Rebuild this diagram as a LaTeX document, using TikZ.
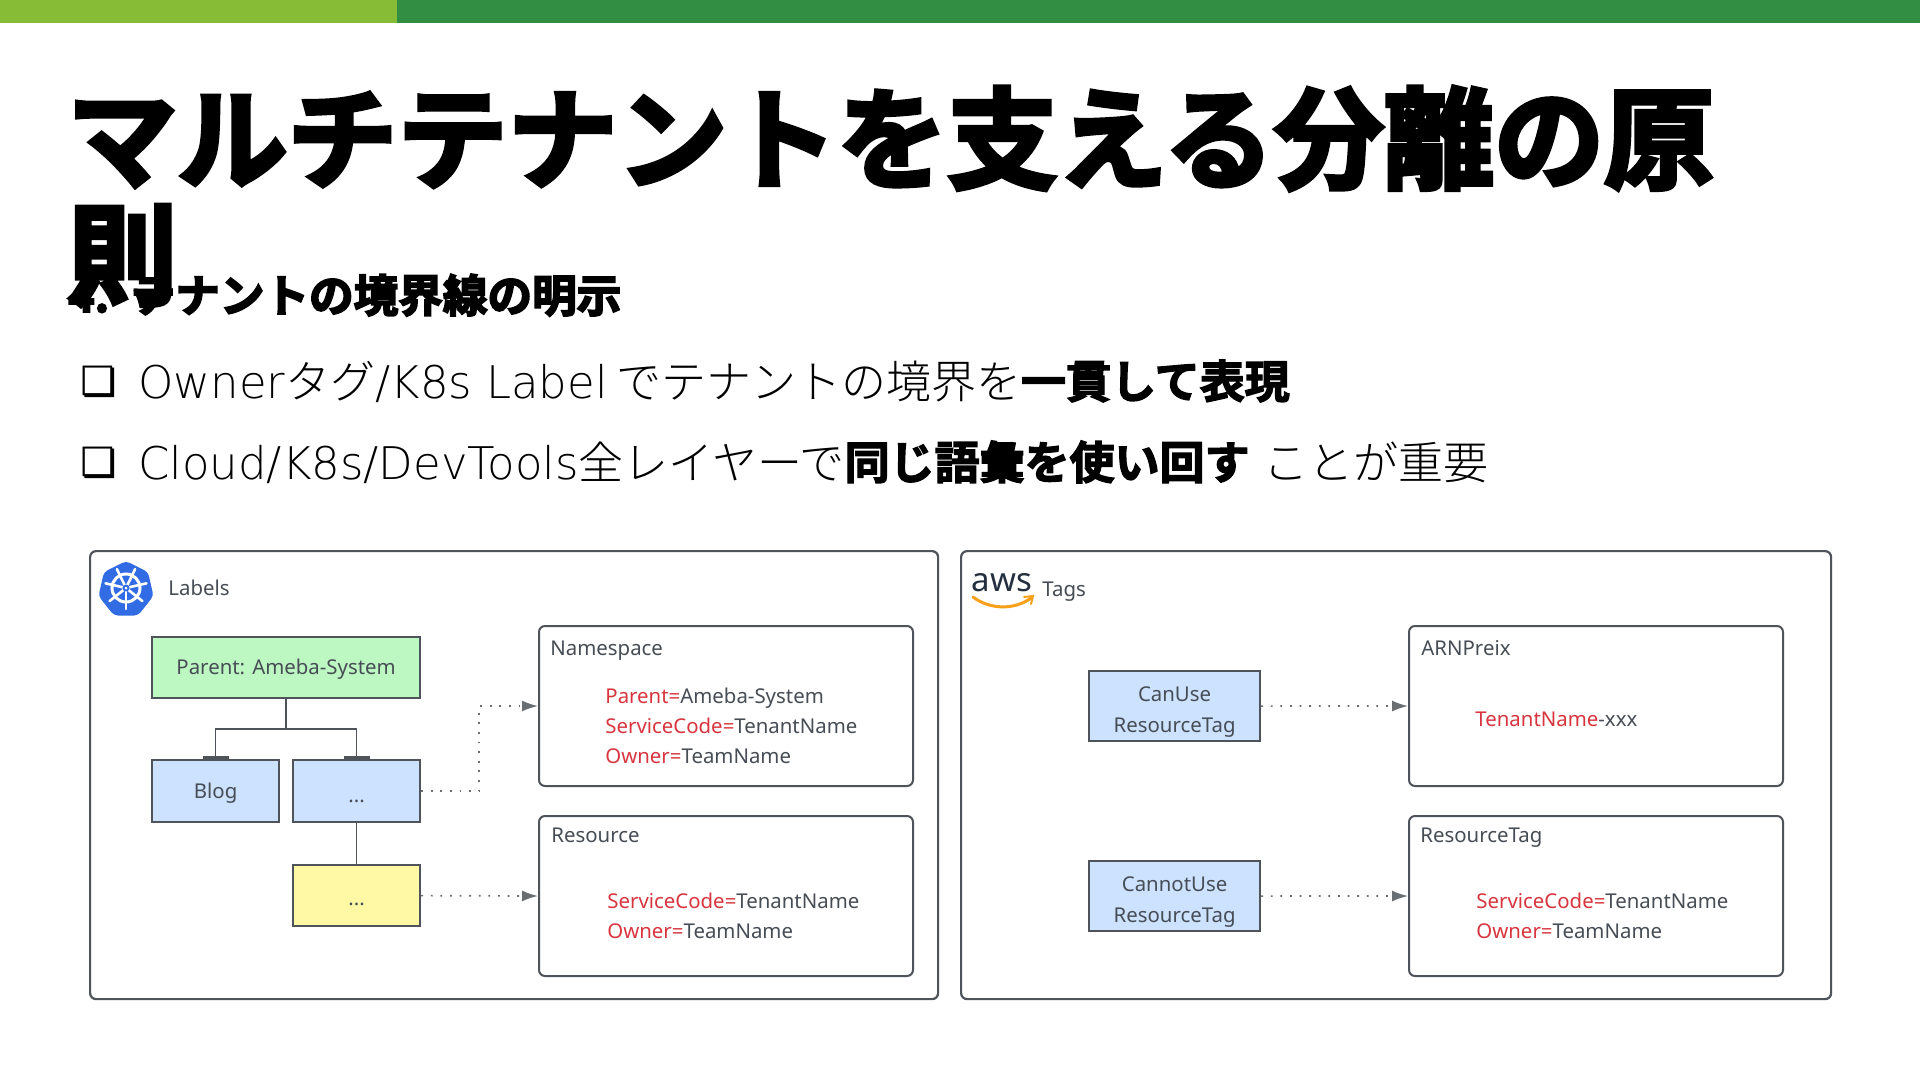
\documentclass[tikz,border=0pt]{standalone}
\usepackage{fontspec}
\usetikzlibrary{arrows.meta}
\setmainfont{Noto Sans}
\newfontfamily\jpheavy[FakeBold=4]{Noto Sans CJK JP Bold}
\newfontfamily\jpbody[FakeBold=3]{Noto Sans CJK JP Bold}
\newfontfamily\jplight{Noto Sans CJK JP Light}
\newfontfamily\lat{DejaVu Sans ExtraLight}
\newfontfamily\symf[FakeBold=0.8]{DejaVu Sans}
\definecolor{barlight}{HTML}{86BC36}
\definecolor{bardark}{HTML}{328E43}
\definecolor{edge}{HTML}{4F545A}
\definecolor{ink}{HTML}{474D55}
\definecolor{redtx}{HTML}{D8353F}
\definecolor{greenfill}{HTML}{BDF8C2}
\definecolor{bluefill}{HTML}{CCE2FF}
\definecolor{yellowfill}{HTML}{FFF8A4}
\definecolor{k8sblue}{HTML}{326CE5}
\definecolor{awsink}{HTML}{232F3E}
\definecolor{awsorange}{HTML}{F7A11A}
\tikzset{
 x=0.5pt,y=-0.5pt,
 panel/.style={draw=edge,line width=1.1pt,rounded corners=3pt,anchor=north west,inner sep=0pt},
 box/.style={draw=edge,line width=1pt,rounded corners=3pt,anchor=north west,inner sep=0pt},
 flat/.style={draw=edge,line width=1.1pt,anchor=north west,inner sep=0pt,align=center,text=ink,font=\fontsize{10.2}{15.3}\selectfont},
 lbl/.style={anchor=base west,inner sep=0pt,text=ink,font=\fontsize{10.2}{13}\selectfont},
 tree/.style={draw=edge,line width=0.8pt},
 tick/.style={draw=edge,line width=0.8pt,-{Bar[width=13pt,line width=1.3pt]}},
 dots/.style={draw=edge!85,line width=0.85pt,dash pattern=on 0.9pt off 3.9pt,-{Latex[length=8pt,width=5.5pt]}},
 bodyline/.style={anchor=base west,inner sep=0pt,font=\fontsize{22.5}{26}\selectfont},
}
\newcommand{\rd}[1]{\textcolor{redtx}{#1}}
\newcommand{\hv}[1]{{\jpbody #1}}
\newcommand{\jl}[1]{{\jplight #1}}
\newcommand{\lowered}[2]{\raisebox{-#1}[7pt][2pt]{#2}}
\newcommand{\topfix}{\rule{0pt}{13.4pt}}
\begin{document}
\begin{tikzpicture}
\useasboundingbox (0,0) rectangle (1920,1081);
\fill[white] (0,0) rectangle (1920,1081);
\fill[bardark] (0,0) rectangle (1920,23);
\fill[barlight] (0,0) rectangle (397,23);
% title
\node[anchor=base west,inner sep=0pt,align=left,font=\jpheavy\fontsize{55}{58}\selectfont] (title) at (67,296) {マルチテナントを支える分離の原\\則};
\node[anchor=base west,inner sep=0pt,font=\jpheavy\fontsize{22.3}{26}\selectfont] (sub) at (68,312) {4.\hspace{4pt} テナントの境界線の明示};
% bullets
\node[bodyline] (b1) at (138,398) {\lat Owner\jl{タグ}/K8s Label\hspace{-3pt} \jl{でテナントの境界を}\hv{一貫して表現}};
\node[bodyline] (b2) at (138,479) {\lat Cloud/K8s/DevTools\jl{全レイヤーで}\hv{同じ語彙を使い回す} \jl{ことが重要}};
\node[anchor=base west,inner sep=0pt,font=\symf\fontsize{20}{24}\selectfont] (m1) at (80,395) {❏};
\node[anchor=base west,inner sep=0pt,font=\symf\fontsize{20}{24}\selectfont] (m2) at (80,476) {❏};
% panels
\node[panel,minimum width=424pt,minimum height=224pt] (left) at (89,550) {};
\node[panel,minimum width=435pt,minimum height=224pt] (right) at (960,550) {};
% inner boxes
\node[box,minimum width=187pt,minimum height=80pt] (ns) at (538,625) {};
\node[box,minimum width=187pt,minimum height=80pt] (rs) at (538,815) {};
\node[box,minimum width=187pt,minimum height=80pt] (ar) at (1408,625) {};
\node[box,minimum width=187pt,minimum height=80pt] (rt) at (1408,815) {};
% k8s logo
\fill[k8sblue,rounded corners=2pt] (126,561) -- (148,572) -- (153.500,596) -- (138,615.500) -- (114,615.500) -- (98.500,596) -- (104,572) -- cycle;
\draw[white,line width=1.5pt] (126,588) circle (14);
\foreach \a in {0,51.43,...,359}{\draw[white,line width=1.3pt,line cap=round] (126,588) -- ++({90+\a}:{21} );}
\fill[k8sblue] (126,588) circle (3.500);
\fill[white] (126,588) circle (1.500);
% aws logo
\node[anchor=center,inner sep=0pt,text=awsink,font=\fontsize{16.5}{20}\selectfont] (aws) at (1002,583) {aws};
\draw[awsorange,line width=1.5pt,line cap=round] (973,597) .. controls (990,610) and (1015,610) .. (1031,598);
\draw[awsorange,line width=1pt,line cap=round] (1024,597) -- (1033,596) -- (1031,604);
% labels
\node[lbl] (labels) at (168,595) {Labels};
\node[lbl] (tags) at (1042,596) {Tags};
\node[lbl] (nsl) at (550,655) {Namespace};
\node[lbl] (rsl) at (551,842) {Resource};
\node[lbl] (arl) at (1421,655) {ARNPreix};
\node[lbl] (rtl) at (1420,842) {ResourceTag};
\node[lbl] (k1) at (605,703) {\rd{Parent=}Ameba-System};
\node[lbl] (k2) at (605,733) {\rd{ServiceCode=}TenantName};
\node[lbl] (k3) at (605,763) {\rd{Owner=}TeamName};
\node[lbl] (k4) at (607,908) {\rd{ServiceCode=}TenantName};
\node[lbl] (k5) at (607,938) {\rd{Owner=}TeamName};
\node[lbl] (k6) at (1475,726) {\rd{TenantName}-xxx};
\node[lbl] (k7) at (1476,908) {\rd{ServiceCode=}TenantName};
\node[lbl] (k8) at (1476,938) {\rd{Owner=}TeamName};
% tree nodes
\node[flat,fill=greenfill,minimum width=134pt,minimum height=30.5pt] (root) at (151,636) {\lowered{1pt}{Parent: Ameba-System}};
\node[flat,fill=bluefill,minimum width=63.5pt,minimum height=31pt] (blog) at (151,759) {\lowered{1.2pt}{Blog}};
\node[flat,fill=bluefill,minimum width=63.5pt,minimum height=31pt] (dot1) at (292,759) {\lowered{3pt}{...}};
\node[flat,fill=yellowfill,minimum width=63.5pt,minimum height=30.5pt] (dot2) at (292,864) {\lowered{2.5pt}{...}};
\node[flat,fill=bluefill,minimum width=85.5pt,minimum height=35pt] (can) at (1088,670) {\topfix CanUse\\ResourceTag};
\node[flat,fill=bluefill,minimum width=85.5pt,minimum height=35pt] (cannot) at (1088,860) {\topfix CannotUse\\ResourceTag};
% connectors
\coordinate (branch) at (root.south |- 0,729);
\coordinate (bend) at (479,706);
\draw[tree] (root.south) -- (branch);
\draw[tick] (branch) -| (blog.north);
\draw[tick] (branch) -| (dot1.north);
\draw[tree] (dot1.south) -- (dot2.north);
\draw[dots] (dot1.east) -| (bend) -- (ns.west);
\draw[dots] (dot2.east) -- (rs.west);
\draw[dots] (can.east) -- (ar.west);
\draw[dots] (cannot.east) -- (rt.west);
\end{tikzpicture}
\end{document}
